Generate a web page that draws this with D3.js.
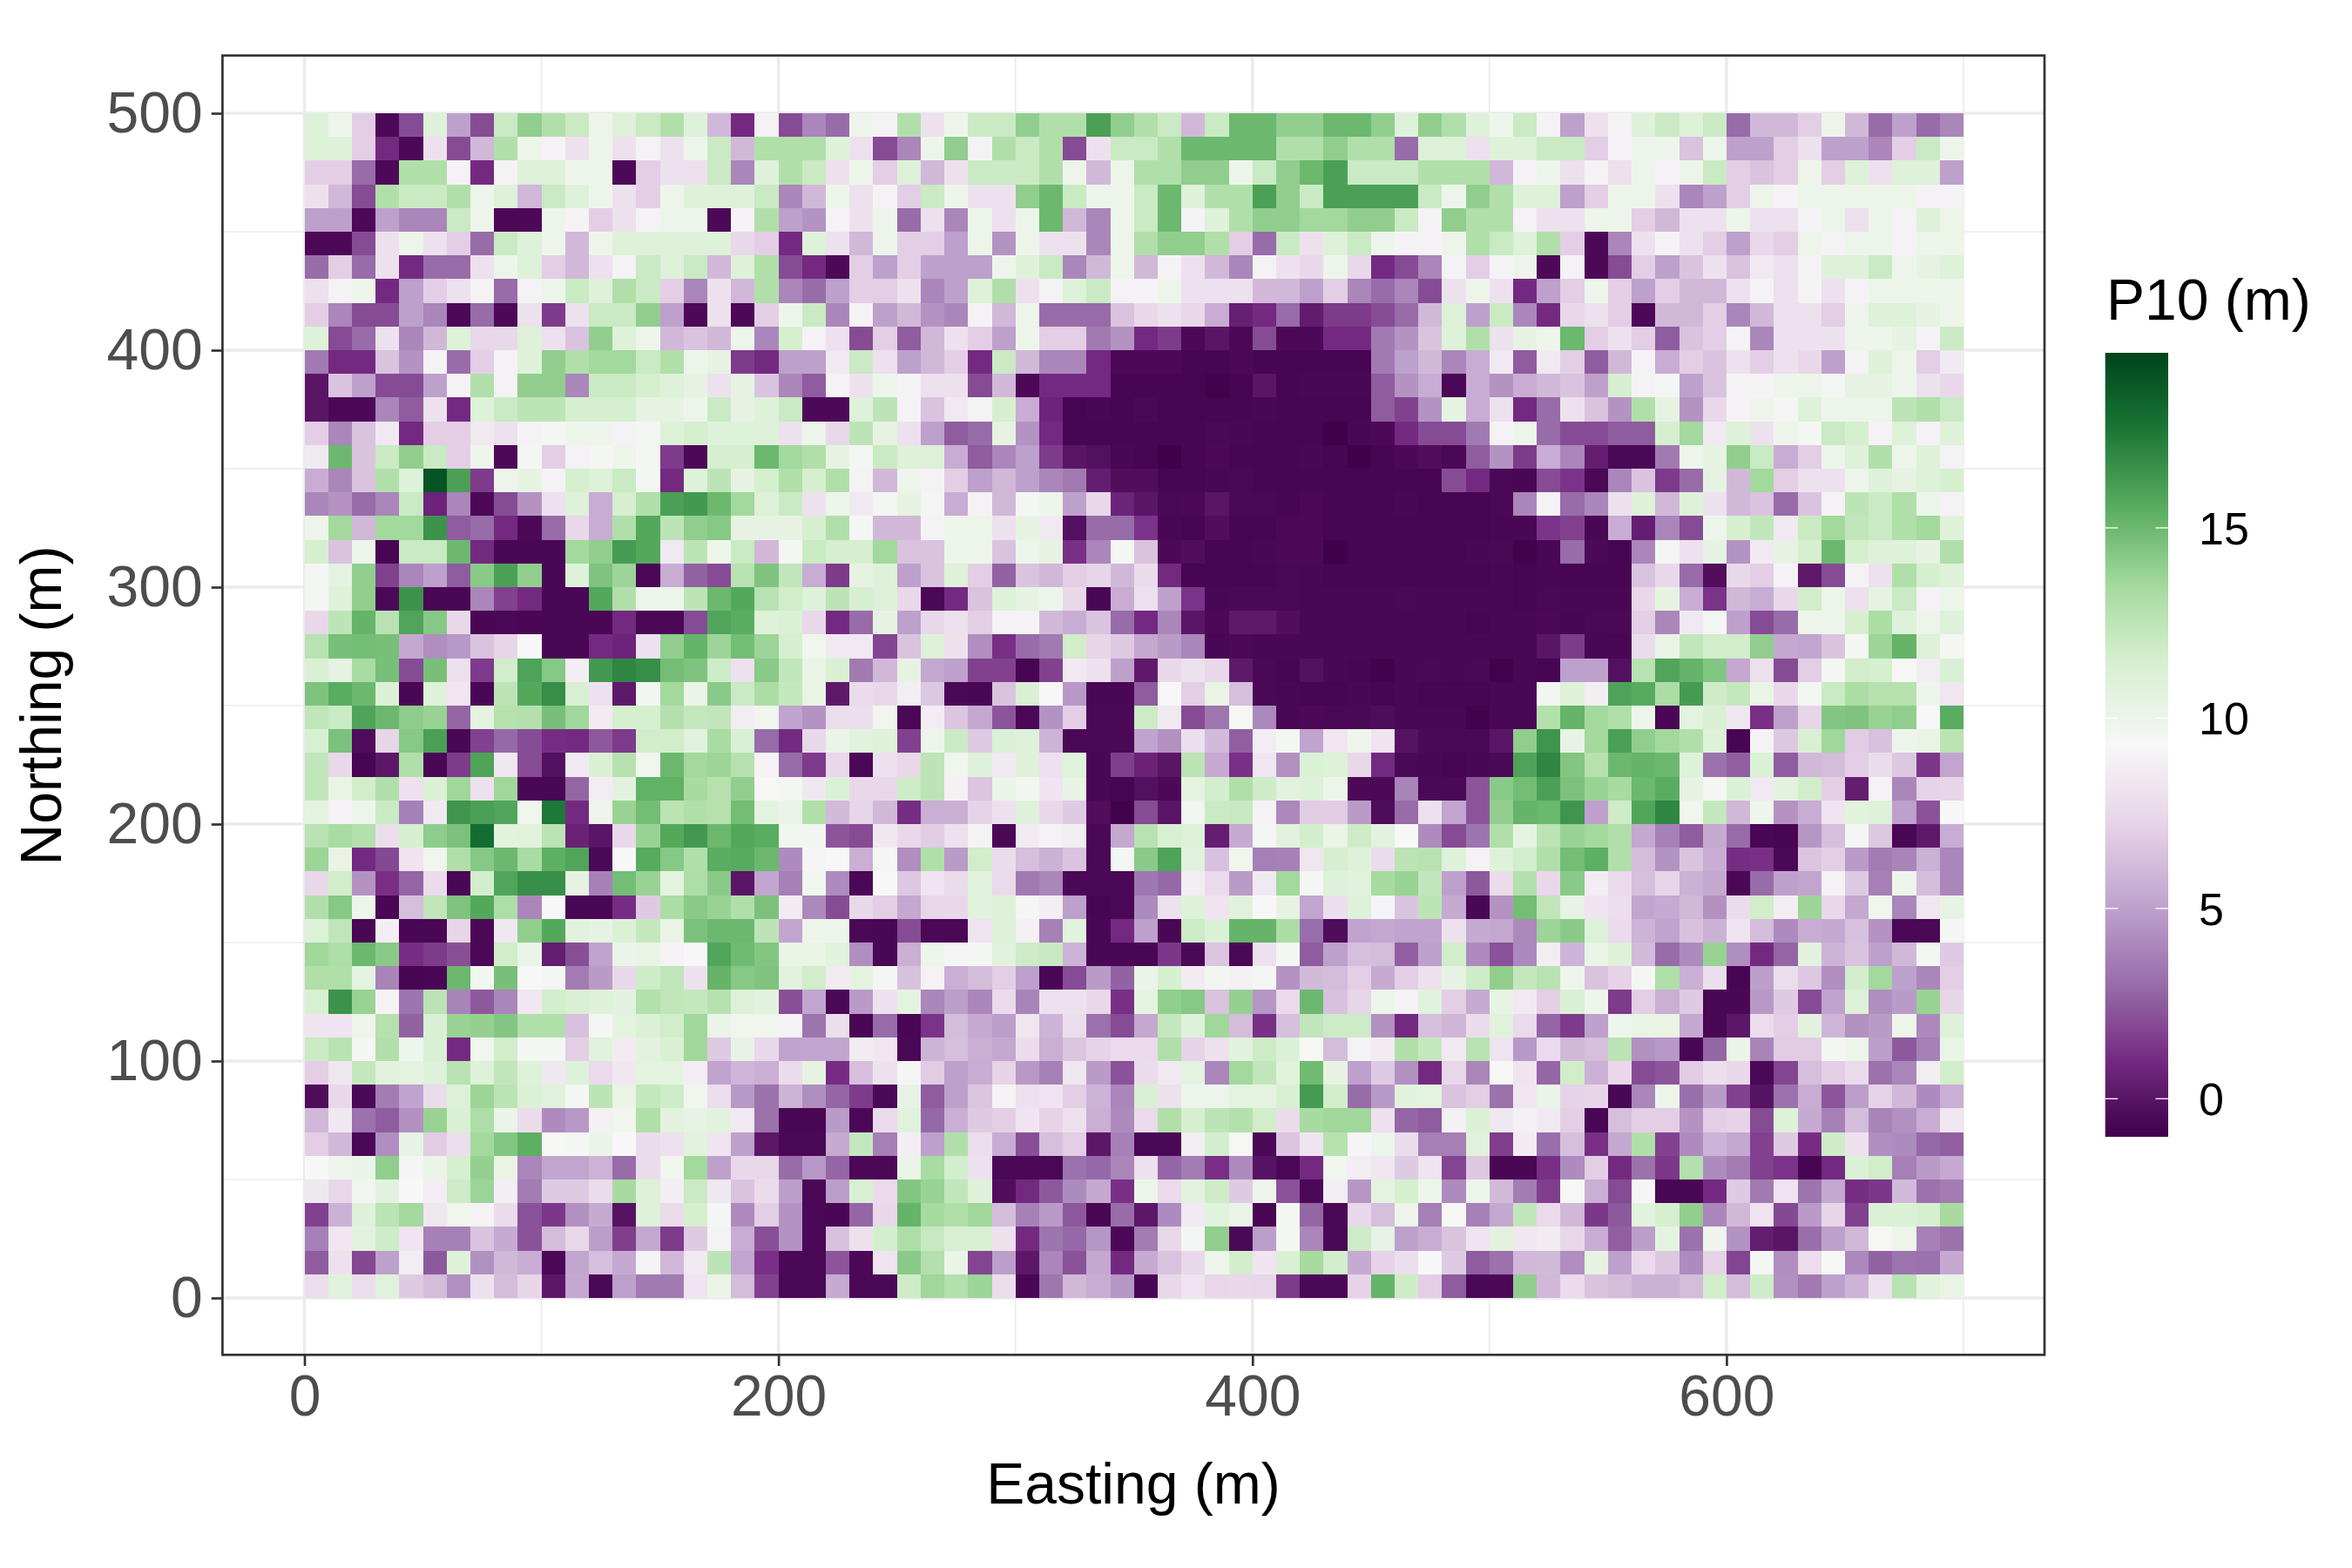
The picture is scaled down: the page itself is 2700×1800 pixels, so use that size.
<!DOCTYPE html>
<html>
<head>
<meta charset="utf-8">
<title>P10 map</title>
<script src="https://cdn.jsdelivr.net/npm/d3@7"></script>
<style>
  html, body { margin: 0; padding: 0; background: #fff; }
  text { font-family: "Liberation Sans", Arial, sans-serif; }
</style>
</head>
<body>
<div id="chart-area"></div>
<script>
const WIDTH = 2700
const HEIGHT = 1800
const PANEL = { LEFT: 255.4, RIGHT: 2347, TOP: 63.7, BOTTOM: 1555.3 }
const CELL = 10

const eastingMajor = [0, 200, 400, 600]
const eastingMinor = [100, 300, 500, 700]
const northingMajor = [0, 100, 200, 300, 400, 500]
const northingMinor = [50, 150, 250, 350, 450]
const legendTicks = [0, 5, 10, 15]
const legendRange = [-1, 19.6]
const prgnStops = ["#40004B", "#762A83", "#9970AB", "#C2A5CF", "#E7D4E8", "#F7F7F7", "#D9F0D3", "#A6DBA0", "#5AAE61", "#1B7837", "#00441B"]

// P10 per 10 m cell, first row is the northern edge (490-500 m)
const p10Rows = [
[11,10,7,-.5,2,11,5,2,12,14,13,12,10,11,12,13,11,6,1,9,2,4,3,10, 9,13,8,10,12,12,14,13,13,16,14,13,12,6,12,15,15,14,14,15,15,14,11, 14,13,11,10,12,9,5,8,9,11,12,11,12,3,6,6,7,10,6,3,5,3,4],
[11,11,7,1,-.5,8,2,6,13,10,9,8,10,8,9,8,10,12,6,13,13,13,11,8, 2,4,10,14,9,13,12,13,2,8,12,12,13,15,15,15,15,13,13,14,13,13,3, 11,11,8,11,11,12,12,7,9,10,10,6.5,10,5,5,7,8,5,5,4,7,12,10],
[7,7,3,-.5,13,13,9,1,9,11,11,10,10,-.5,7,8,8,12,4,11,13,12,8,10, 7,11,6,8,12,12,12,13,10,6,10,13,13,14,14,10,12,14,15,16,12,12,12, 13,13,13,6,9,10,8,9,8,10,9,10,12,7,6.5,7,10,7,11,8,11,11,5],
[8,6,2,13,12,12,13,10,11,6,12,11,10,8,7,10,11,11,11,12,4,6,10,8, 9,7,12,10,8,8,14,15,12,10,10,12,15,11,13,13,16,14,12,16,16,16,16, 12,10,14,13,11,11,5,7,10,10,8,4,5,7,10,9,10,10,10,10,10,9,9],
[5,5,-.5,5,4,4,12,10,-.5,-.5,10,9,7,8,9,10,10,-.5,9,13,5,4.5,9,8, 10,3,8,4,10,8,10,15,6,4,10,12,15,9,11,13,14,14,13.5,13.5,14,14,12, 9,14,13,13,9,8,8,10,10,7,6,8,8,10,8,8,9,10,8,10,9,11,10],
[-.5,-.5,2,8,10,8,7,3,12,11,10,6,10,11,11,11,11,11,7.5,7,1,11,8,6, 10,7,7,5,10,4.5,10,8,8,4,10,13,14,14,13,7,3,12,8,11,12,10,9, 9,10,13,12,11,13,7,-.5,4,8,9,8,7,5,7.5,7,10,9,10,10,9,10,10],
[3,7,3,8,1,3,3,8,10,11,7,6,8,9,12,11,12,6,11,13,2,1,-.5,7, 5,7,5,5,5,10,11,12,4,6,10,6,9,8,6,4,9,8,7.5,10,7.5,1,2, 4,9,7,9,10,-.5,9,-.5,2,7,5,6.5,8,6.5,8.5,8,9,11,11,12,10,10.5,11],
[8,9,10,1,5,7,8,9,3,9,10,12,11,13,12,7,4,8,6,13,4,3,5,7, 7,8,4,5,11,13,8,9,11,12,9,9,10,8,8,8,6,6,5,7,4,3,4, 2,8,10,8,1,5,7,10,7,5,7,6,6,8,9,8,9,8,9,10,10,10,10],
[7,4,2,2,5,4,-.5,3,-.5,8,1.5,8,12,12,14,5,-.5,8,-.5,7,10,12,4,9, 5,6,4.5,4,9,6,10,3,3,3,6.5,7.5,8,7.5,5.5,.5,1,3,.3,1.5,1.5,2,3, 6,11,5,12,4,1,7.5,8,7,-.5,6,6,7,4,6,8,8,7,10,11,11,10.5,10],
[11,2,3,8,4,6,11,7.5,7.5,11,8,6.5,14,11,10,6,6.5,6,10,4,11.5,9,8,2, 7,2.5,6,8,7,5,10,7,7,3.5,4.5,1,1.5,-.5,0,-.5,2,-.5,-.5,1,1,3.5,4.5, 6.5,11,13,8,10.5,10,15,7,8,7,2.5,6.5,7,9,4,8,8,8,10,10,10.5,9,12],
[3.5,1,1,6.5,4.5,9,3,7,9,11,14,13,13.5,13.5,12,13,10,10.5,1.5,1,5,5,8.5,12, 8,5,6,7,1,12,6,4,4,1,-.5,-.5,-.5,-.7,-.7,-.5,-.7,-.7,-.7,-.7,-.7,3.5,5, 6,4,5.5,8.5,2.5,8.5,7,2.5,6,9,5.5,7,6.5,8,7,8,7.5,5,9,11,10,7,8.5],
[0,6.5,5,2,2,5,9,13,9,14,14,4,12,12,11.5,11,10.5,8,10.5,6.5,4,2.5,9,8, 10,9,8,8,2,6,-.5,1,1,1,-.7,-.7,-.7,-.7,-.9,-.7,0,-.7,-.6,-.6,-.6,2.5,4.5, 5.5,-.55,5.5,4.5,5.5,6,6.5,5,11.5,9,9.5,5,6.5,9,9,10,10,9.5,10.5,10.5,10,8,7.5],
[0,-.5,-.5,4,2.5,8,1,11,12,12.5,12.5,11.5,11.5,11.5,10.5,10.5,10,12,10.5,11,12,-.5,-.5,11, 12.5,9,6.5,8.5,9,11.5,5.5,.7,-.7,-.6,-.7,-.55,-.7,-.7,-.7,-.7,-.6,-.7,-.7,-.7,-.7,2.5,1.7, 4.5,10.5,5.5,8,1,3,8,6.5,4.5,13,10.5,4.5,7.5,9,10,9.5,11,10,10,10,12.5,13,12],
[7,4,6.5,8.5,1,7,7,8.5,8,9,9.5,10,10,9,9.5,11,11.5,11,11,11,8,10,7.5,12.5, 10.5,8,5,2.5,3,10.5,4.5,1,-.7,-.7,-.7,-.7,-.7,-.7,-.55,-.6,-.7,-.7,-.7,-1,-.6,-.5,1, 2,2,3.5,9,10,3,2,2,2.5,2.5,11.5,13.5,8.5,11,8,10,9.5,12,11.5,9,11,9,11],
[8.5,15,6.5,12,14,12,7,10,-.5,9.5,7,9,9.5,10,9.5,1.5,-.5,11.5,11.5,15,13.5,13,10.5,9.5, 12,11,11,5.5,2.5,4,5,1.5,0,-.2,-.6,-.7,-1,-.7,-.5,-.7,-.7,-.7,-.6,-.7,-1,-.7,-.5, -.3,-.55,2.5,4.5,1.5,5.5,4,.4,-.55,-.55,3.5,10,10.5,14,12,5.5,7,10,11,13,10,11,9],
[5.5,4,6.5,13,11,19,16,1.5,10,10.5,9,11.5,11,12,9.5,1,11,12.5,10.5,11.5,13,11.5,13,9, 6,10,9,7,5,6,5,4,3.5,.4,-.3,-.3,-.7,-.7,-.6,-.55,-.7,-.7,-.7,-.7,-.7,-.7,-.7, -.7,2,1,-.55,-.6,2,1.3,-.55,4,6.5,1.5,3,10.5,6,13.5,7,8,8,10,11,10.5,11,11.5],
[4,4.5,3,4,12,.7,4,-.5,2,4.5,8,11,5.5,11.5,13,16,16.3,15,13.5,11,12,8,10,8.5, 9.5,10.5,9.5,5.5,9,6,9.5,10,5,7.5,.7,0,-.55,-.5,0,-.55,-.55,-.7,-.5,-.7,-.7,-.7,-.6, -.7,-.7,-.7,-.55,4,9,3,4,8,11,6,11,8,6,6.5,3,6.5,9,12.5,12,13,10,9],
[10,13.5,6,13.5,13.5,16.5,2.5,3,1,-.5,3,7.5,5.5,13,15.7,12.5,14,14.3,10.5,10.5,10.5,11.5,13,9.5, 6,6,9,10,10,8,10.5,8.5,-.2,3,3,1.3,-.6,-.7,-.3,-.7,-.7,-.5,-.5,-.7,-.7,-.7,-.7, -.7,-.7,-.7,-.6,-.6,1.3,1.7,-.6,5.5,.4,4,2,10,11.5,12.3,8.5,12,13.5,12.3,12,13,13.5,11],
[11.5,6.5,10,-.7,12,12,15,1,-.6,-.6,-.6,13.5,14,16.2,15.7,8.5,12.5,10,12,6,9.5,12,11.5,11.5, 13.5,6.5,6.5,10,10,6.5,10,10.5,1.2,4,9.5,6.5,-.5,-.3,-.7,-.7,-.6,-.5,-.5,-1,-.7,-.7,-.7, -.7,-.7,-.6,-.55,-.9,-.6,3,-.5,-.7,4,9.5,8,10.5,4.5,8.5,10.5,11.5,15,11.5,11,11,10.5,13],
[9.5,10.5,14,1.7,4,5,2.5,14.2,16,14,-.6,11,14.5,13.7,-.55,5.5,2.7,2,12.7,14.5,12.3,5.5,1.5,10.5, 11,5,6.5,11,7,2.7,6.5,6,7,7.3,6,7.7,1,-.7,-.7,-.7,-.7,-.55,-.6,-.7,-.7,-.7,-.7, -.7,-.7,-.7,-.6,-.7,-.6,-.7,-.7,-.7,6.5,7.5,3,-.3,7.5,7,9,.2,2,9,8,13,11.5,11],
[9.5,11,14,-.55,16.5,-.6,-.6,4,1.7,1,-.6,-.6,15.7,13,10,10,12.5,15,15.7,12.7,11.7,11,12.5,11.5, 11,7.5,-.55,1,6.5,11,10.5,10,7.5,-.6,5.5,8,5,1.3,-.6,-.55,-.55,-.55,-.6,-.6,-.6,-.6,-.55, -.6,-.6,-.6,-.6,-.7,-.55,-.6,-.6,-.6,7.5,10.5,5.5,1.3,6,5.5,7.5,11.7,10,8,10.5,12,9,10],
[7.5,12.5,15.2,12.7,15.8,14.3,7.5,-.6,-.55,-.6,-.6,-.6,-.6,1,-.55,-.55,2,15.8,15.5,11,11.2,7.5,1,3, 10.5,5,7.5,8,7,9,9,6,5.5,6.5,3,1,4,0,-.5,.2,.2,-.3,-.6,-.6,-.6,-.6,-.6, -.6,-.6,-.7,-.6,-.6,-.5,-.7,-.55,-.5,7,4,8.5,9.5,5,2,3,10,10,11.5,13.2,11,10,11],
[12.7,14.7,14.8,14.7,5.3,4.3,4.7,6.5,7.3,9.3,-.6,-.6,1,.7,8,14,15.2,13.7,14.8,13.7,11.5,9.8,8.5,8.5, 1.8,6.5,11,8,4.3,1.2,3,3.5,11.7,7.3,6.8,5.3,4.8,4,-.6,-.5,-.6,-.6,-.6,-.6,-.6,-.6,-.6, -.6,-.6,-.6,-.6,-.6,0,1.5,-.6,-.6,7.7,10.3,12.3,11.7,11.7,14,5.3,5.2,6.5,9.5,13.7,15.2,11,9.5],
[11.3,10.5,13.3,14.7,2,14.7,8,1.5,11.7,15.9,14.3,8.8,16.3,17,16.7,14.8,14.5,11.8,8,14.2,12.3,10.3,11.3,3.5, 6,10.5,5.3,5,1.7,1.7,-.7,1.7,8.5,8,5,.2,7.5,8,7.5,.2,-.55,-.7,-.2,-.6,-.7,-.9,-.6, -.55,-.6,-.55,-.9,-.6,-.7,5,5,-.2,12.7,15.8,15.2,14.4,5.3,8,2,7,9.5,11.7,11.5,9.3,8.7,11.3],
[14.5,15.5,15,11.2,-.6,11,8.3,-.6,12.5,15.7,16.7,11.4,8,.2,9.7,13.5,10.2,14.2,12,13.2,12.2,10.3,.2,7.7, 7.5,8.7,6.7,-.55,-.6,6.5,11.3,9.3,4.7,-.6,-.6,2.5,9.3,7,10.3,6.3,-.55,-.6,-.7,-.7,-.6,-.7,-.6, -.7,-.7,-.7,-.6,-.6,9.7,11,8.8,15.9,15.6,13.2,16.2,11.8,12.2,10.2,7.5,9.6,12,13.2,12.8,12.8,10,8.3],
[12.4,12,15.9,15,14.1,13.8,2.8,10.6,12.8,12.9,14.7,13.6,8.6,11.5,11.5,12.9,12.2,12.3,8.7,9.8,5.1,4.5,7.8,7.9, 9.8,-.55,8.7,6.6,5.3,2.3,-.55,4.5,7,-.55,-.55,11.9,8.5,2,3.4,9.4,4.1,-.6,-.5,-.55,-.55,-.4,-.6, -.6,-.6,-.9,-.6,-.6,12.9,15.2,13.5,13,10,-.6,10.6,11.3,8.4,1.2,5,7.3,14.4,14.5,13.8,14,9.3,15.5],
[11.4,14.6,-.4,7.3,14.3,16,-.6,1.7,2.9,2,1.1,1,2.4,1.5,11.7,11.7,10.9,13.3,11.3,3,1,7.5,10.2,10.8, 11,1.7,10,12,6.8,11.2,11,5.8,-.55,-.55,-.55,5.1,4.4,7.9,6.1,2.6,8.7,9.5,5.1,8.3,10,8.2,-.1, -.55,-.55,-.55,0,14,16.4,10.4,13.5,16,14,13.5,13,11,-.7,9,6.7,11.3,13.6,6.9,6.4,10,10.3,12.6],
[12.3,7.5,-.7,.1,13,-.6,1.5,15.9,8.4,2,-.2,8.5,11.3,12.8,9.8,15,13.5,13.7,12.8,9,3,1.5,7.5,-.55, 8,7.5,12.5,9.8,11,8.5,11,8,10.9,-.6,1.6,.6,0,12.6,5.4,1.2,8.3,4.4,11.2,11,7.5,1,-.55, -.6,-.7,-.6,-.55,15.9,17,14.4,12.8,15,15.2,15,11,3.2,2.6,11.2,2.5,6,6.2,7,7.7,6.7,1.4,5.2],
[12.3,10.3,11.7,13,8,11.2,13.6,8,13.6,-.6,-.6,2.8,8.7,10.7,15.3,15.3,13.4,12.8,14,9.4,9.6,8.4,11.2,7.5, 7.5,11.8,12.5,8.9,6.6,10.2,9.7,8.2,10.4,-.6,-.7,-.2,-.5,10.6,11.6,13,11.8,10.7,11,10,-.5,-.5,3.9, -.55,-.55,2.3,14.2,14.8,16,14.6,13.8,13.4,15,15.5,10.5,9.5,11.2,8.5,10.7,11.7,7,.4,9,4,7.2,7.3],
[10.6,9,10,12,3.8,8.5,16.4,16,15.8,9.8,17.5,1,9.9,13.8,14.8,12.6,13,12.8,14.8,10.6,10.2,13,6.1,7.3, 6,1.1,5.6,5.6,7.2,8,11,7.5,6.8,-.3,-.9,2,0,9.8,12,12.1,9,4.1,6.9,6.9,4.8,-.4,3, 8,5.2,2.3,14,15.2,15,16.4,5,11.8,15.8,17,9.8,12.2,6,9.9,4.5,5.5,8.2,10.8,11,5,2.2,9.3],
[12.7,13.3,12.9,7.9,11.5,14.1,14.6,18,10.8,10.9,12.6,.6,0,7.5,13.8,15.7,16.3,15,15.7,15.5,9.7,9.7,2.3,2, 8.4,7.5,6.9,8,9,-.55,8.6,9,8.7,-.55,5.3,12.7,11.4,11.1,.4,5.4,9.5,10.7,11.6,10.2,11.8,10.7,9.3, 4.2,2,3.3,13,10.6,12.6,13.8,13.5,13,5.3,3.8,2.5,5.4,3,-.6,-.7,4.6,6.3,9.6,6.7,-.6,.2,5.5],
[13.7,10.3,1,1.9,8.2,9.8,13,14.3,15,13.3,15.4,15.8,-.55,9.3,15.6,14.3,13,15.5,15.6,15,4.2,9.2,9.3,5.6, 9.5,4.3,13,4.8,11.7,7.7,6.3,5.7,6.5,-.55,9.5,14.2,15.9,10.9,6.4,9.8,3.7,3.8,8.3,11.5,11,7.7,12.6, 12.7,11,9,11,11.7,13,14.8,15.4,13,6.2,4.5,6.5,5.5,1.1,1.2,-.55,6.6,7,4.8,3.6,3.9,5.7,4],
[7.5,11.7,4.5,1.2,2.8,7.7,-.6,11.6,15.8,16.7,16.7,10.5,3.8,14.8,13.8,10.6,13.1,14.2,0,5.2,3.7,9.8,4.2,-.55, 9.4,6.7,8.2,7.7,10.9,7.6,3.5,4,-.55,-.55,-.55,3.4,2.9,8.7,7.6,4.8,8.5,13.5,9.5,11,10.8,13.4,13.8, 12.3,5,2.4,7.7,12.9,7.5,14.2,8.7,7.6,6.3,7.3,5.7,5.3,-.55,3,5,5.2,9,6.8,3.7,10,6.2,4],
[13,14.3,10,-.6,6.3,12.4,14.5,15.7,13.1,4,9.3,-.6,-.6,1.1,6.8,13.2,14.2,13.8,13,14.6,8.6,4.1,2,7.5, 7,5.3,7.4,7.5,10.8,11,9.6,8.8,5,-.7,-.55,4.2,8,11,8.2,10.9,9.3,10.5,5.2,7.9,11,9.1,6.5, 12.5,5.4,-.6,4.5,14.8,12.4,10.4,8.2,7.8,5.2,5.4,6,4.4,7.7,11.7,8.7,13.7,7.5,5.3,9.8,4,8.3,10.4],
[11,12.4,-.6,8.8,-.6,-.6,7.3,-.55,8.4,14,15.7,10.7,10.5,11.2,12.2,10.3,14.6,15,15,12.5,5.2,10,10,-.55, -.6,2,-.55,-.55,8.2,11,8.9,3.8,10.8,-.6,1,5,-.6,11.9,11.2,15.2,15.2,13.2,3.1,-.4,5.1,5.3,5.1, 5.1,8,5.4,5.3,4.1,13.7,14.2,11.1,7.6,5.8,5.1,6.4,5.7,8.1,6.2,4.2,5.5,5.3,6.4,4.5,-.55,-.55,9.6],
[13.6,13.1,15,14.2,1.1,1.5,2.1,-.55,11.7,10.2,.4,2.1,5.1,10.1,10.3,9,9.3,15.8,14.9,14.4,10.3,10.3,10.8,4.3, -.6,5.6,10,9.2,9.5,10.8,11.9,12.1,5.8,-.6,-.6,-.6,1.4,-.55,6.6,-.55,8,9.5,2.5,5,6.3,6.2,2.6, 5,11.7,4.2,2.2,4.1,8.7,5.8,10.2,11,6.1,3,4.2,13.8,4.3,1,2.8,10.7,5.8,6.5,5,6,9.6,6.8],
[13,13,10.6,3.9,-.7,-.6,15,9.7,14.7,9.3,9.6,3.6,4.8,7.5,11.8,12.4,8,15.2,14.3,14.5,10.7,11.7,8.6,10.6, 9.5,6.4,9,5.6,6.2,7,5,-.6,2,4.8,2.7,10.2,11.5,8.6,9.7,8.9,9.5,4.5,6.1,6.2,7,5.4,7, 8,10.5,11.8,14,12.2,12.7,10,6.5,7.2,9.5,13,5.6,7.9,-.7,4.9,7.8,6.7,4.3,11.6,13.5,5,4,7],
[11.4,16.5,13.8,9,3.3,12.6,3.9,2.4,4,8.4,11.6,11.3,11,10.7,12.9,12.4,12.2,12.8,11.1,10.7,2.1,5.2,-.55,4.8, 8,10.6,4,4.9,4,7.6,3.9,8,8,7.5,1.2,10.6,14,14.3,6.5,13.9,4.6,7.6,15,6.4,7.3,10,9, 10.8,7,5.4,10.4,8.5,7,11.3,10,1.5,7,5.6,6.8,-.6,-.6,4.7,6.8,2,5.1,11,4.3,4.8,13.8,7.3],
[8.2,8.2,10,12.8,2.7,11.3,13.8,13.9,14.4,13,13,6.4,9.6,10.6,11.2,11.7,13.6,10.2,9.8,9.8,9,3.3,7.9,-.6, 3,-.6,1.3,6.2,5.4,4.9,8.3,5.8,7.8,3.2,2,5.3,12.2,11,13.6,6.2,1.2,6.3,12.3,11.9,11.9,4.4,1, 6.3,5.9,7.7,10.9,7.6,2.8,1.5,5,10,10.3,10.3,5.3,-.6,.1,7.8,7,10.7,5.9,4.4,4.8,10,4.1,11],
[12,12.7,9.5,13,9.9,11.3,1,9.8,11.7,9.5,9.6,7,10.9,8.6,10.7,11.3,13.6,6.8,10.4,7.5,5.1,5.2,5.2,8.6, 8.3,-.55,5.8,6.3,5.6,5.3,7.7,5.6,6.6,7.2,7.6,7.6,13,7.2,8,10.8,11.9,11.2,9.4,6.2,9,8.6,13, 12.2,8.5,12.7,8.1,4.7,7.6,6,6.3,12.6,4.4,4.7,-.6,2.8,10.2,3.9,6.9,6.9,9.5,10,4.9,2.4,3.8,10.3],
[7,8.3,12.2,10.8,10.6,11,12.7,11,12.3,11,8.4,11,7.6,8.4,10.6,10.6,8.7,5.1,5.9,5.6,7.7,10.5,1.1,6.3, 8,9.6,6.9,5,5.5,7.2,4.7,3.8,8.3,4.8,2.2,7.7,8.5,10.6,4,13.5,12.3,10.8,14.9,10.5,5,6.8,4.4, 1,7.4,4,9.3,8.2,2.8,11.7,5.7,7.5,2,2.3,6.9,7.9,7.5,-.55,1.8,6.3,7,7.6,3.2,4,8.7,11.7],
[-.4,7.5,-.55,3.6,5.1,7.7,11.1,13.7,12.6,11.2,10.9,9.5,12.5,10.3,12.2,11.8,9.8,7.8,4.7,3.2,5.8,4.3,2.8,1.5, -.55,10.4,2.5,5,6.6,9,8,8.2,7,5.8,4,11.3,8,10,10,10.6,10.6,11.4,16.2,11.7,3,4.7,10.8, 10.6,6.5,7,3.2,8.3,10.2,7.2,7.3,-.6,4,10,3.1,4.8,1.7,-.1,3.2,5.5,2.3,4.9,7.2,6,4.2,5.6],
[6,8.4,3.2,2.5,4.4,13.8,11.3,13.1,10.2,7.7,4.2,4.7,8.9,9.8,13,10.7,10.4,10.7,8.5,3.2,-.6,-.6,4.8,-.55, 7.6,10.9,2.9,5.6,6.8,7,8.2,7.2,8,5.6,4.2,7.6,13,11.5,12.5,12.9,11.7,7.7,13.4,13.6,13.6,8,2.8, 2.5,8.9,11.2,8.4,8.9,8.5,7,-.6,6.3,7,7,4.5,7,7.2,2,11,5.4,3.8,6.2,3.9,4.4,5.5,8.3],
[7,6,-.55,4.3,10.4,6.9,7.9,13.5,14.4,15.4,9.4,9.5,10.1,9.3,7.7,8,10.7,8.2,5,.1,-.55,-.55,5.4,12.2, 3.7,8.8,5,13,7.8,5.5,2.1,6.3,7,.1,3.8,-.55,-.55,8.8,11.6,9.4,-.55,6.6,8.2,12.8,9.2,10,7.7, 3.7,3.7,10.9,1.6,8.6,3.1,6.3,1.2,5.3,13,1.7,4.2,5.8,5.3,1.7,6.8,1.1,11.8,8,4.3,4.2,2.9,2.6],
[9.3,9.9,10.1,14,9.2,10.2,11.5,13.9,10.3,4,5.2,5.2,5.8,3,7.7,9.8,13.5,5,7.5,7.4,3,4.7,2.8,-.5, -.55,10.2,13.3,11.6,8,-.55,-.55,-.55,3.2,2.9,4,8,2.8,3.6,1.2,4.2,-.1,-.55,1,9.8,8.7,8.3,6.8, 8.2,1.8,6.7,-.6,-.6,1.2,4.2,7,1,3.2,1.4,12.9,4.2,3.6,1.7,1.3,-.7,1,11.2,11.7,3.7,4.8,5.4],
[8.4,7.4,9.7,10.7,9.3,8.8,11.9,13.7,8.8,3.6,6.8,6.8,7.7,13.4,11,8.8,12,8.4,6.5,7.7,4.9,-.55,4.9,11.4, 7.6,14.4,13.8,12.3,11,-.3,1,2.4,4.2,5.3,1.2,10,7.6,10.7,11.8,6.8,10,2.2,-.55,8.7,4.6,10.6,11.5, 10,4.2,10,6.1,3.6,1.6,9.4,5.6,2,9.2,-.6,-.6,1,6.8,3.5,8.1,3.3,5.3,1.1,1.4,6.1,3.2,3.6],
[1.7,5.7,11,12.6,13.5,8.3,9.8,9,7.7,2.2,1.4,4.4,5.4,-.1,11,7.7,11.5,9.5,4.2,7,4.5,-.55,-.6,2.8, 7.5,15.2,13.4,13,13.6,6.2,3.8,4.8,2.4,-.6,3,.1,4.2,8.5,10.8,10.2,-.6,9.5,2.8,-.55,7.5,6.3,10, 3.7,9.4,3.8,5.3,12.3,7.6,6,1.4,2.4,10.8,11.5,14,4,6,8.2,1.9,4.8,7.3,1.7,11.2,11.2,11.5,13.4],
[3.8,8.3,10.7,11.8,8.2,3.8,3.8,6.5,5.4,2.2,6.2,7.4,4.9,1.6,5.3,1.5,6.8,9,5.5,2.1,4.5,-.55,6.4,8, 11.6,13.1,12.1,11.4,11.4,8,1,3.3,2.9,4.6,-.55,3.6,7.5,9.5,14,-.55,4.9,9.5,4,-.55,11.9,10.4,5, 5.5,6.5,8.2,10.7,8.4,8.6,7.4,5.5,2.6,4.9,10.6,3.2,9.9,4.5,.4,0,3.1,5,6,9.4,10,3.8,3.2],
[2.5,8,1.9,5,8.7,2.4,11,4.4,6,5.5,-.55,5.2,6.3,5.3,9,6,8.5,12.5,5.2,1.2,-.55,-.55,2.3,-.5, 8.2,14.2,12.9,10.2,1.8,4.9,.1,4,2.2,5.3,1,5.4,6.5,7.5,10,11.6,8.2,11.3,13.4,11.6,5.4,7.2,7.9, 9.3,6.8,2.5,3.2,6,6.1,4.3,10.5,5,7.6,6.7,4.2,7.2,1.8,9.5,4.3,7.8,9.4,4.1,2.7,3.3,3.2,5.3],
[7.8,10.9,7.8,10.9,6.8,6.2,4.4,8,6.2,7.3,.1,5.3,-.55,5,3.5,3.5,8.2,10.2,6.2,1.7,-.55,-.55,5.4,-.55, -.55,11.8,13.6,12.9,13.7,7.8,-.6,3.4,6,5.5,4.6,-.6,7.5,8.2,7.4,7.5,7.4,1.5,-.55,-.55,7.2,15.2,11.8, 7,2.5,-.55,-.5,14,6,7.6,6.5,6.2,5.7,5.7,6.2,11.7,6.2,11.8,4.4,3.5,5,5.8,8,12.7,10.8,10.3]
]

const eastings = d3.range(0, 700, CELL)
const cells = p10Rows.flatMap((row, i) => row.map((value, j) => ({
  easting: eastings[j],
  northing: 490 - i * CELL,
  value: value
})))

const svg = d3.select("#chart-area").append("svg")
  .attr("width", WIDTH)
  .attr("height", HEIGHT)
  .style("display", "block")

const x = d3.scaleLinear().domain([0, 700]).range([349.5, 2254])
const y = d3.scaleLinear().domain([0, 500]).range([1490, 130])

// PRGn, evenly spread over the legend range
const stopValues = prgnStops.map((d, i) => legendRange[0] + i * (legendRange[1] - legendRange[0]) / (prgnStops.length - 1))
const colour = d3.scaleLinear()
  .domain(stopValues)
  .range(prgnStops)
  .interpolate(d3.interpolateLab)

svg.append("rect")
  .attr("x", PANEL.LEFT)
  .attr("y", PANEL.TOP)
  .attr("width", PANEL.RIGHT - PANEL.LEFT)
  .attr("height", PANEL.BOTTOM - PANEL.TOP)
  .attr("fill", "#fff")

const grid = svg.append("g").attr("stroke", "#EBEBEB").attr("fill", "none")

grid.selectAll(".minor-x").data(eastingMinor).enter().append("line")
  .attr("x1", d => x(d)).attr("x2", d => x(d))
  .attr("y1", PANEL.TOP).attr("y2", PANEL.BOTTOM)
  .attr("stroke-width", 1.7)
grid.selectAll(".minor-y").data(northingMinor).enter().append("line")
  .attr("y1", d => y(d)).attr("y2", d => y(d))
  .attr("x1", PANEL.LEFT).attr("x2", PANEL.RIGHT)
  .attr("stroke-width", 1.7)
grid.selectAll(".major-x").data(eastingMajor).enter().append("line")
  .attr("x1", d => x(d)).attr("x2", d => x(d))
  .attr("y1", PANEL.TOP).attr("y2", PANEL.BOTTOM)
  .attr("stroke-width", 3.4)
grid.selectAll(".major-y").data(northingMajor).enter().append("line")
  .attr("y1", d => y(d)).attr("y2", d => y(d))
  .attr("x1", PANEL.LEFT).attr("x2", PANEL.RIGHT)
  .attr("stroke-width", 3.4)

svg.append("g").selectAll("rect")
  .data(cells)
  .enter().append("rect")
    .attr("x", d => x(d.easting))
    .attr("y", d => y(d.northing + CELL))
    .attr("width", d => x(d.easting + CELL) - x(d.easting))
    .attr("height", d => y(d.northing) - y(d.northing + CELL))
    .attr("fill", d => colour(d.value))
    .attr("shape-rendering", "crispEdges")

svg.append("rect")
  .attr("x", PANEL.LEFT)
  .attr("y", PANEL.TOP)
  .attr("width", PANEL.RIGHT - PANEL.LEFT)
  .attr("height", PANEL.BOTTOM - PANEL.TOP)
  .attr("fill", "none")
  .attr("stroke", "#333333")
  .attr("stroke-width", 2.7)

const xAxisCall = d3.axisBottom(x).tickValues(eastingMajor).tickSize(12.7).tickPadding(10).tickFormat(d3.format("d"))
const yAxisCall = d3.axisLeft(y).tickValues(northingMajor).tickSize(12.7).tickPadding(10).tickFormat(d3.format("d"))

const xAxis = svg.append("g")
  .attr("transform", `translate(0, ${PANEL.BOTTOM})`)
  .call(xAxisCall)
const yAxis = svg.append("g")
  .attr("transform", `translate(${PANEL.LEFT}, 0)`)
  .call(yAxisCall)

;[xAxis, yAxis].forEach(axis => {
  axis.select(".domain").remove()
  axis.selectAll("line").attr("stroke", "#333333").attr("stroke-width", 2.7)
  axis.selectAll("text")
    .attr("fill", "#4D4D4D")
    .style("font-size", "66px")
    .style("font-family", '"Liberation Sans", Arial, sans-serif')
})

svg.append("text")
  .attr("x", 1301)
  .attr("y", 1725.5)
  .attr("text-anchor", "middle")
  .attr("fill", "#000")
  .style("font-size", "66px")
  .text("Easting (m)")

svg.append("text")
  .attr("transform", "translate(70, 810) rotate(-90)")
  .attr("text-anchor", "middle")
  .attr("fill", "#000")
  .style("font-size", "66px")
  .text("Northing (m)")

// legend
const LEGEND = { LEFT: 2416.7, RIGHT: 2489, TOP: 405, BOTTOM: 1305 }
const legendY = d3.scaleLinear().domain(legendRange).range([LEGEND.BOTTOM, LEGEND.TOP])

const gradient = svg.append("defs").append("linearGradient")
  .attr("id", "p10-bar")
  .attr("x1", 0).attr("x2", 0)
  .attr("y1", 1).attr("y2", 0)

gradient.selectAll("stop")
  .data(d3.range(0, 1.001, 0.02))
  .enter().append("stop")
    .attr("offset", d => d)
    .attr("stop-color", d => colour(legendRange[0] + d * (legendRange[1] - legendRange[0])))

svg.append("rect")
  .attr("x", LEGEND.LEFT)
  .attr("y", LEGEND.TOP)
  .attr("width", LEGEND.RIGHT - LEGEND.LEFT)
  .attr("height", LEGEND.BOTTOM - LEGEND.TOP)
  .attr("fill", "url(#p10-bar)")

const legendTick = svg.append("g").selectAll("g")
  .data(legendTicks)
  .enter().append("g")
    .attr("transform", d => `translate(0, ${legendY(d)})`)

legendTick.append("line")
  .attr("x1", LEGEND.LEFT).attr("x2", LEGEND.LEFT + 14.5)
  .attr("stroke", "#fff").attr("stroke-width", 1.3)
legendTick.append("line")
  .attr("x1", LEGEND.RIGHT - 14.5).attr("x2", LEGEND.RIGHT)
  .attr("stroke", "#fff").attr("stroke-width", 1.3)
legendTick.append("text")
  .attr("x", 2524)
  .attr("dy", "0.36em")
  .attr("fill", "#000")
  .style("font-size", "52px")
  .text(d => d)

svg.append("text")
  .attr("x", 2418)
  .attr("y", 367)
  .attr("fill", "#000")
  .style("font-size", "66px")
  .text("P10 (m)")
</script>
</body>
</html>
